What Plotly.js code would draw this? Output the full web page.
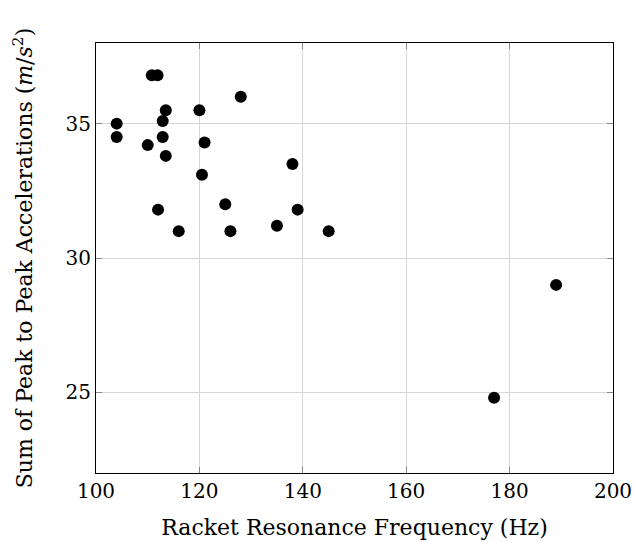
<!DOCTYPE html>
<html>
<head>
<meta charset="utf-8">
<script src="https://cdn.plot.ly/plotly-3.0.1.min.js"></script>
<style>html,body{margin:0;padding:0;background:#fff;}#chart{width:634px;height:542px;}</style>
</head>
<body>
<div id="chart"></div>
<script>
const frequency = [110.8, 111.9, 128, 113.5, 120, 104, 112.9, 104, 112.9, 110, 121, 113.5, 120.5, 125, 112, 116, 126, 135, 138, 139, 145, 189, 177];
const acceleration = [36.8, 36.8, 36.0, 35.5, 35.5, 35.0, 35.1, 34.5, 34.5, 34.2, 34.3, 33.8, 33.1, 32.0, 31.8, 31.0, 31.0, 31.2, 33.5, 31.8, 31.0, 29.0, 24.8];
const xTicks = [100, 120, 140, 160, 180, 200];
const yTicks = [25, 30, 35];

const fontFam = '"DejaVu Serif", "Liberation Serif", serif';
const trace = {
  x: frequency, y: acceleration, type: 'scatter', mode: 'markers',
  marker: {color: '#000', size: 12}, hoverinfo: 'none'
};
const axisCommon = {
  showline: true, linecolor: '#000', linewidth: 1, mirror: 'allticks',
  ticks: 'inside', ticklen: 6, tickcolor: '#888', tickwidth: 1,
  showgrid: true, gridcolor: '#d6d6d6', gridwidth: 1, zeroline: false,
  tickfont: {family: fontFam, size: 20, color: '#000'}
};
const layout = {
  width: 634, height: 542,
  margin: {l: 96, r: 21, t: 43, b: 69},
  paper_bgcolor: '#fff', plot_bgcolor: '#fff',
  showlegend: false,
  font: {family: fontFam, color: '#000'},
  xaxis: Object.assign({}, axisCommon, {
    range: [100, 200], tickvals: xTicks, ticktext: xTicks.map(String),
    title: {text: 'Racket Resonance Frequency (Hz)', font: {family: fontFam, size: 22}, standoff: 17}
  }),
  yaxis: Object.assign({}, axisCommon, {
    range: [22, 38], tickvals: yTicks, ticktext: yTicks.map(String),
    title: {text: 'Sum of Peak to Peak Accelerations (<i>m</i>/<i>s</i><sup>2</sup>)', font: {family: fontFam, size: 22}, standoff: 26}
  })
};
Plotly.newPlot('chart', [trace], layout, {displayModeBar: false, staticPlot: true});
</script>
</body>
</html>
